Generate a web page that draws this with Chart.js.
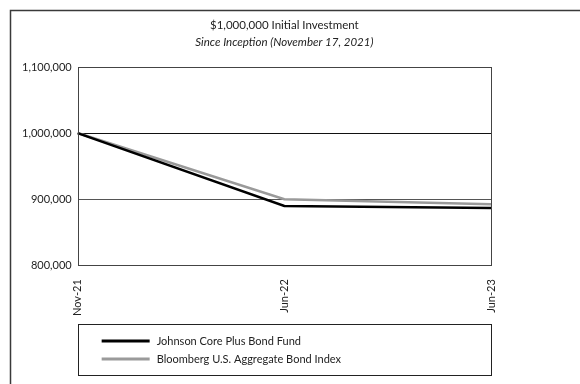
<!DOCTYPE html>
<html>
<head>
<meta charset="utf-8">
<script src="https://cdn.jsdelivr.net/npm/chart.js@4"></script>
<style>
  html, body { margin: 0; padding: 0; background: #fff; }
  #wrap { width: 580px; height: 384px; }
</style>
</head>
<body>
<div id="wrap"><canvas id="myChart" width="580" height="384"></canvas></div>
<script>
const labels = ['Nov-21', 'Jun-22', 'Jun-23'];
const fundValues = [1000000, 889500, 886500];
const indexValues = [1000000, 899800, 892200];
const seriesNames = ['Johnson Core Plus Bond Fund', 'Bloomberg U.S. Aggregate Bond Index'];
const yTicks = [800000, 900000, 1000000, 1100000];
const titleLines = ['$1,000,000 Initial Investment', 'Since Inception (November 17, 2021)'];

const FONT = 'Lato, "Noto Sans", sans-serif';

// frame, titles and boxed legend
const decor = {
  id: 'decor',
  afterDraw(chart) {
    const c = chart.ctx;
    const a = chart.chartArea;
    c.save();
    // outer border (open at right/bottom)
    c.strokeStyle = '#3a3a3a';
    c.lineWidth = 1.5;
    c.beginPath();
    c.moveTo(10.5, 384);
    c.lineTo(10.5, 10.5);
    c.lineTo(580, 10.5);
    c.stroke();
    // plot frame
    c.strokeStyle = '#444';
    c.lineWidth = 1;
    c.strokeRect(Math.round(a.left) + 0.5, Math.round(a.top) + 0.5, Math.round(a.right - a.left), Math.round(a.bottom - a.top));
    // titles
    const cx = (a.left + a.right) / 2;
    c.fillStyle = '#222';
    c.textAlign = 'center';
    c.textBaseline = 'middle';
    c.font = '11.5px ' + FONT;
    c.fillText(titleLines[0], cx, 25);
    c.font = 'italic 11.5px ' + FONT;
    c.fillText(titleLines[1], cx, 42);
    // legend box
    const top = 324, bottom = 375;
    c.strokeStyle = '#222';
    c.lineWidth = 1;
    c.strokeRect(Math.round(a.left) + 0.5, top + 0.5, Math.round(a.right - a.left), bottom - top);
    c.textAlign = 'left';
    c.font = '11px ' + FONT;
    chart.data.datasets.forEach((ds, i) => {
      const y = 341 + i * 18;
      c.strokeStyle = ds.borderColor;
      c.lineWidth = 3;
      c.beginPath();
      c.moveTo(a.left + 24, y);
      c.lineTo(a.left + 72, y);
      c.stroke();
      c.fillStyle = '#222';
      c.fillText(ds.label, a.left + 79, y);
    });
    c.restore();
  }
};

new Chart(document.getElementById('myChart'), {
  type: 'line',
  data: {
    labels: labels,
    datasets: [
      { label: seriesNames[0], data: fundValues, borderColor: '#000', borderWidth: 2.5, pointRadius: 0, tension: 0 },
      { label: seriesNames[1], data: indexValues, borderColor: '#9a9a9a', borderWidth: 2.5, pointRadius: 0, tension: 0 }
    ]
  },
  options: {
    responsive: false,
    animation: false,
    layout: { padding: { left: 16, top: 67, right: 89, bottom: 62 } },
    plugins: {
      legend: { display: false },
      tooltip: { enabled: false }
    },
    scales: {
      x: {
        offset: false,
        grid: { display: false },
        border: { display: false },
        ticks: {
          color: '#222',
          font: { family: FONT, size: 11 },
          minRotation: 90,
          maxRotation: 90,
          padding: 6
        }
      },
      y: {
        min: yTicks[0],
        max: yTicks[yTicks.length - 1],
        afterBuildTicks: (scale) => { scale.ticks = yTicks.map(v => ({ value: v })); },
        border: { display: false },
        grid: {
          drawTicks: false,
          color: (ctx) => ctx.tick.value === 1000000 ? '#111' : (ctx.tick.value === 900000 ? '#555' : 'rgba(0,0,0,0)'),
          lineWidth: 1
        },
        ticks: {
          color: '#222',
          font: { family: FONT, size: 11 },
          padding: 6,
          callback: (v) => Number(v).toLocaleString('en-US')
        }
      }
    }
  },
  plugins: [decor]
});
</script>
</body>
</html>
